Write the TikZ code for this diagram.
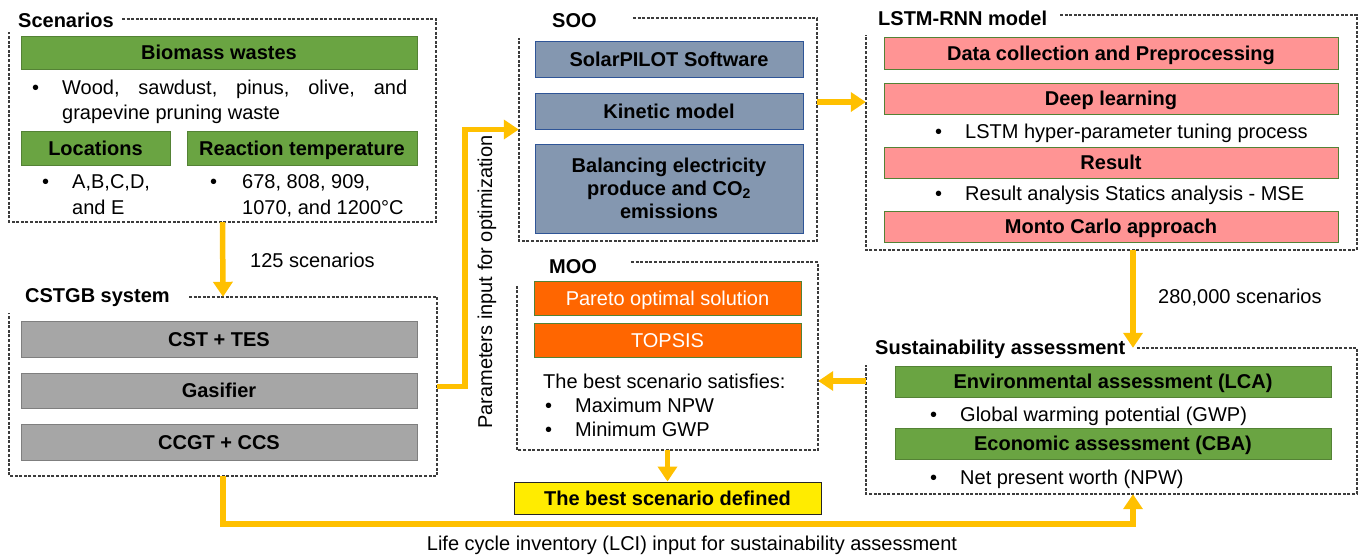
\documentclass[tikz,border=0pt]{standalone}
\usepackage{fontspec}
\setmainfont{Liberation Sans}
\usetikzlibrary{arrows.meta}
\definecolor{gold}    {RGB}{255,192,0}
\definecolor{grnfill} {RGB}{106,164,66}
\definecolor{grnline} {RGB}{84,130,53}
\definecolor{redfill} {RGB}{255,148,148}
\definecolor{bluefill}{RGB}{132,151,176}
\definecolor{blueline}{RGB}{47,85,151}
\definecolor{greyfill}{RGB}{166,166,166}
\definecolor{greyline}{RGB}{127,127,127}
\definecolor{orgfill} {RGB}{255,102,0}
\definecolor{yelfill} {RGB}{255,236,0}
\definecolor{dashgray}{RGB}{60,60,60}
\newcommand{\bl}{\textbullet}
\newcommand{\fs}{\fontsize{20}{24}\selectfont}

\begin{document}
\begin{tikzpicture}[x=1pt,y=-1pt,
  every node/.style={font=\fs, inner sep=0pt},
  ttl/.style={anchor=west, font=\fs\bfseries},
  txt/.style={anchor=base west},
  pbox/.style={draw, line width=1pt, font=\fs\bfseries},
  sl/.style={text height=14.5pt, text depth=0pt},
  grn/.style={pbox, sl, fill=grnfill, draw=grnline},
  gry/.style={pbox, sl, fill=greyfill, draw=greyline},
  blu/.style={pbox, sl, fill=bluefill, draw=blueline},
  red/.style={pbox, sl, fill=redfill, draw=grnline},
  org/.style={pbox, sl, fill=orgfill, draw=grnline, text=white, font=\fs},
  area/.style={draw=none},
  dframe/.style={draw=dashgray, line width=1.1pt, dash pattern=on 3pt off 1.6pt},
  flow/.style={draw=gold, line width=5.5pt, -{Triangle[width=19pt,length=15pt]}}]
  \useasboundingbox (0,0) rectangle (1363,555);

  % frames
  \node[area, minimum width=427pt, minimum height=203pt] (scn)  at ( 222.5,120.5) {};
  \node[area, minimum width=428pt, minimum height=179pt] (cst)  at ( 223.0,386.5) {};
  \node[area, minimum width=298pt, minimum height=223pt] (soo)  at ( 668.0,129.5) {};
  \node[area, minimum width=301pt, minimum height=188pt] (moo)  at ( 667.5,356.0) {};
  \node[area, minimum width=491pt, minimum height=235pt] (lstm) at (1111.5,132.5) {};
  \node[area, minimum width=491pt, minimum height=146pt] (sus)  at (1111.5,421.0) {};
  \draw[dframe] ( 122, 19) -| ( 436,222) -| (  9, 32);
  \draw[dframe] ( 189,297) -| ( 437,476) -| (  9,313);
  \draw[dframe] ( 633, 18) -| ( 817,241) -| (519, 38);
  \draw[dframe] ( 631,262) -| ( 818,450) -| (517,285);
  \draw[dframe] (1060, 15) -| (1357,250) -| (866, 35);
  \draw[dframe] (1137,348) -| (1357,494) -| (866,365);
  \node[ttl] (scnT)  at ( 18, 20) {Scenarios};
  \node[ttl] (cstT)  at ( 25,298) {CSTGB system};
  \node[ttl] (sooT)  at (552, 21) {SOO};
  \node[ttl] (mooT)  at (549,267) {MOO};
  \node[ttl] (lstmT) at (878, 18) {LSTM-RNN model};
  \node[ttl] (susT)  at (875,349) {Sustainability assessment};

  % scenarios
  \node[grn, minimum width=396pt, minimum height=33pt] (bio)  at (219, 52.5) {Biomass wastes};
  \node[txt] (bioB)  at ( 32, 94) {\bl};
  \node[txt] (bio1)  at ( 62, 94) {\makebox[345pt][s]{Wood, sawdust, pinus, olive, and}};
  \node[txt] (bio2)  at ( 62,119) {grapevine pruning waste};
  \node[grn, minimum width=149pt, minimum height=34pt] (loc)  at ( 95.5,148) {Locations};
  \node[grn, minimum width=230pt, minimum height=34pt] (temp) at (302,148) {Reaction temperature};
  \node[txt] (locB)  at ( 42,188) {\bl};
  \node[txt] (loc1)  at ( 72,188) {A,B,C,D,};
  \node[txt] (loc2)  at ( 72,214) {and E};
  \node[txt] (tempB) at (210,188) {\bl};
  \node[txt] (temp1) at (242,188) {678, 808, 909,};
  \node[txt] (temp2) at (242,214) {1070, and 1200°C};

  % CSTGB
  \node[gry, minimum width=396pt, minimum height=36pt] (tes) at (219,339)   {CST + TES};
  \node[gry, minimum width=396pt, minimum height=35pt] (gas) at (219,390.5) {Gasifier};
  \node[gry, minimum width=396pt, minimum height=36pt] (ccs) at (219,442)   {CCGT + CCS};

  % SOO
  \node[blu, minimum width=268pt, minimum height=36pt] (pilot) at (669, 59) {SolarPILOT Software};
  \node[blu, minimum width=268pt, minimum height=36pt] (kin)   at (669,111) {Kinetic model};
  \node[pbox, fill=bluefill, draw=blueline, minimum width=268pt, minimum height=89pt,
        align=center, font=\fontsize{20}{23}\selectfont\bfseries] (bal) at (669,188.5)
        {Balancing electricity\\produce and CO\textsubscript{2}\\emissions};

  % MOO
  \node[org, minimum width=267pt, minimum height=34pt] (par)  at (667.5,298) {Pareto optimal solution};
  \node[org, minimum width=267pt, minimum height=34pt] (tops) at (667.5,340) {TOPSIS};
  \node[txt] (sat)   at (543,388) {The best scenario satisfies:};
  \node[txt] (satB1) at (545,412) {\bl};
  \node[txt] (sat1)  at (575,412) {Maximum NPW};
  \node[txt] (satB2) at (545,436) {\bl};
  \node[txt] (sat2)  at (575,436) {Minimum GWP};
  \node[pbox, sl, fill=yelfill, draw=black!85, minimum width=307pt, minimum height=32pt] (best)
        at (667.5,498) {The best scenario defined};

  % LSTM-RNN
  \node[red, minimum width=454pt, minimum height=32pt] (data) at (1111, 53)   {Data collection and Preprocessing};
  \node[red, minimum width=454pt, minimum height=31pt] (deep) at (1111, 98.5) {Deep learning};
  \node[txt] (deepB) at (935,138) {\bl};
  \node[txt] (deep1) at (965,138) {LSTM hyper-parameter tuning process};
  \node[red, minimum width=454pt, minimum height=31pt] (res)  at (1111,162.5) {Result};
  \node[txt] (resB)  at (935,200) {\bl};
  \node[txt] (res1)  at (965,200) {Result analysis Statics analysis - MSE};
  \node[red, minimum width=454pt, minimum height=31pt] (mc)   at (1111,226.5) {Monto Carlo approach};

  % sustainability
  \node[grn, minimum width=436pt, minimum height=31pt] (lca) at (1113,381.5) {Environmental assessment (LCA)};
  \node[txt] (lcaB) at (930,421) {\bl};
  \node[txt] (lca1) at (960,421) {Global warming potential (GWP)};
  \node[grn, minimum width=436pt, minimum height=31pt] (cba) at (1113,443.5) {Economic assessment (CBA)};
  \node[txt] (cbaB) at (930,484) {\bl};
  \node[txt] (cba1) at (960,484) {Net present worth (NPW)};

  % connectors
  \draw[flow] (scn.south) -- (cst.north);
  \draw[flow] (cst.east) -- ++(28,0) |- (soo.west);
  \draw[flow] ([yshift=27.5pt]soo.east) -- ([yshift=27.5pt]soo.east -| lstm.west);
  \draw[flow] ([xshift=21.5pt]lstm.south) -- ([xshift=21.5pt]lstm.south |- sus.north);
  \draw[flow] ([yshift=40pt]sus.west) -- ([yshift=40pt]sus.west -| moo.east);
  \draw[flow] (moo.south) -- (best.north);
  \draw[flow] (cst.south) -- ++(0,48) -| ([xshift=21.5pt]sus.south);
  \node[txt] (n125) at (250,267) {125 scenarios};
  \node[txt] (n280) at (1158,303) {280,000 scenarios};
  \node[anchor=base] (lci) at (692,550) {Life cycle inventory (LCI) input for sustainability assessment};
  \node[rotate=90, anchor=base] (param) at (492,282) {Parameters input for optimization};
\end{tikzpicture}
\end{document}
